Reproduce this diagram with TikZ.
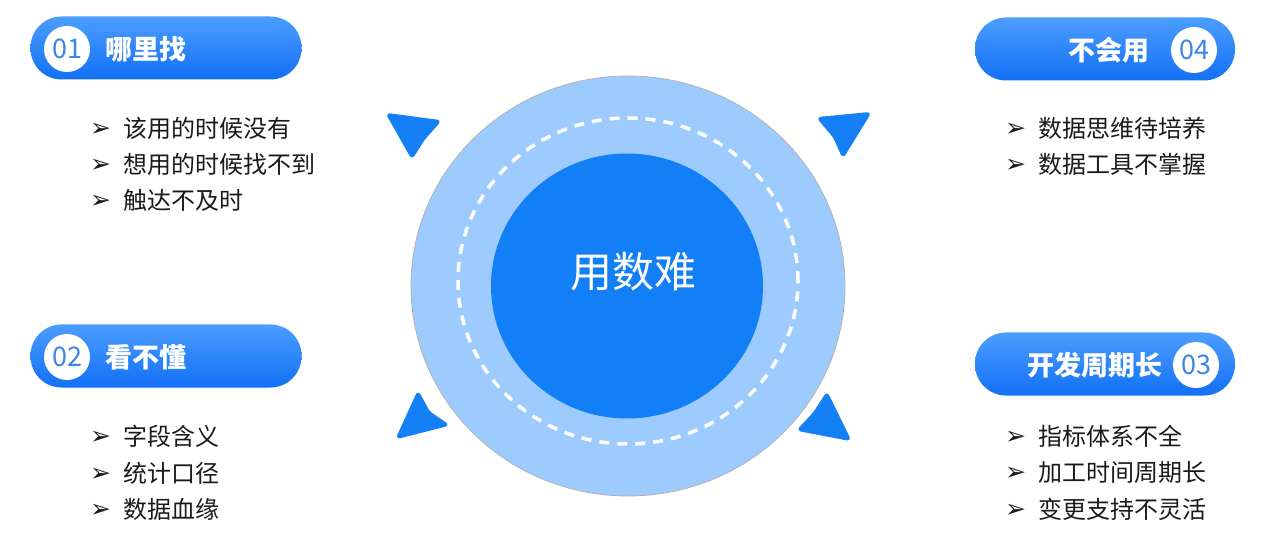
\documentclass[tikz,border=0pt]{standalone}
\usepackage{fontspec}
\setmainfont{Noto Sans CJK SC}
\newfontfamily\symfont{DejaVu Sans}
\usetikzlibrary{shapes.geometric}
\definecolor{mypilltopcolor}{HTML}{4C9DFF}
\definecolor{mypillbottomcolor}{HTML}{1270F5}
\definecolor{mynumcolor}{HTML}{3D85E6}
\definecolor{myringcolor}{HTML}{9DCBFD}
\definecolor{mycorecolor}{HTML}{137FF7}
\definecolor{myarrowcolor}{HTML}{1580F6}
\definecolor{mytextcolor}{HTML}{1A1A1A}
\tikzset{
  pill/.style={rectangle, rounded corners=31pt, top color=mypilltopcolor, bottom color=mypillbottomcolor, minimum width=268pt, minimum height=63pt, inner sep=0pt},
  numdot/.style={circle, fill=white, minimum size=46pt, inner sep=0pt, text=mynumcolor, font=\fontsize{27pt}{27pt}\selectfont},
  pilltext/.style={text=white, inner sep=0pt, font=\fontsize{27pt}{27pt}\selectfont\bfseries},
  bullet/.style={anchor=west, inner sep=0pt, text=mytextcolor, font=\fontsize{24pt}{24pt}\selectfont},
  pointer/.style={fill=myarrowcolor, draw=myarrowcolor, line width=2pt, line join=round, rounded corners=3pt},
}
\newcommand{\arrowbullet}{\makebox[33pt][l]{\raisebox{1pt}{\symfont\fontsize{25pt}{25pt}\selectfont ➢}}}

\begin{document}
\begin{tikzpicture}[x=1pt, y=-1pt]%
\useasboundingbox (0,0) rectangle (1280,545);%
% centre rings
\node[draw=black!30, line width=0.8pt, fill=myringcolor, ellipse, minimum width=434pt, minimum height=420pt, inner sep=0pt] (ring) at (628,286) {};%
\coordinate (dashmid) at (628,281);%
\draw[white, line width=3.5pt, dash pattern=on 10pt off 8pt] (dashmid) ellipse [x radius=170pt, y radius=163pt];%
\node[fill=mycorecolor, ellipse, minimum width=272pt, minimum height=265pt, inner sep=0pt] (core) at (627,286) {};%
\node[text=white, inner sep=0pt, font=\fontsize{42pt}{42pt}\selectfont] (hard) at (633,272) {用数难};%
% pointers
\filldraw[pointer] (387,114) -- (440,121) -- (424,139) -- (412,158) -- cycle;%
\filldraw[pointer] (818,118) -- (870,113) -- (843,157) -- (834,137) -- cycle;%
\filldraw[pointer] (418,392) -- (429,412) -- (448,425) -- (397,438) -- cycle;%
\filldraw[pointer] (827,393) -- (850,440) -- (798,430) -- (814,413) -- cycle;%
% 01
\node[pill, minimum width=271pt] (pillone) at (166,48) {};%
\node[numdot] (numone) at (67,49) {01};%
\node[pilltext, anchor=west] (titleone) at (105,49) {哪里找};%
\node[bullet] (findone) at (90,128) {\arrowbullet 该用的时候没有};%
\node[bullet] (findtwo) at (90,164) {\arrowbullet 想用的时候找不到};%
\node[bullet] (findthree) at (90,200) {\arrowbullet 触达不及时};%
% 02
\node[pill, minimum width=271pt] (pilltwo) at (166,356) {};%
\node[numdot] (numtwo) at (67,357) {02};%
\node[pilltext, anchor=west] (titletwo) at (105,357) {看不懂};%
\node[bullet] (readone) at (90,436) {\arrowbullet 字段含义};%
\node[bullet] (readtwo) at (90,473) {\arrowbullet 统计口径};%
\node[bullet] (readthree) at (90,509) {\arrowbullet 数据血缘};%
% 03
\node[pill, minimum width=260pt] (pillthree) at (1105,364) {};%
\node[numdot] (numthree) at (1196,365) {03};%
\node[pilltext, anchor=east] (titlethree) at (1163,365) {开发周期长};%
\node[bullet] (devone) at (1005,436) {\arrowbullet 指标体系不全};%
\node[bullet] (devtwo) at (1005,473) {\arrowbullet 加工时间周期长};%
\node[bullet] (devthree) at (1005,509) {\arrowbullet 变更支持不灵活};%
% 04
\node[pill, minimum width=260pt] (pillfour) at (1105,49) {};%
\node[numdot] (numfour) at (1194,50) {04};%
\node[pilltext, anchor=east] (titlefour) at (1150,50) {不会用};%
\node[bullet] (useone) at (1005,128) {\arrowbullet 数据思维待培养};%
\node[bullet] (usetwo) at (1005,164) {\arrowbullet 数据工具不掌握};%
\end{tikzpicture}
\end{document}
